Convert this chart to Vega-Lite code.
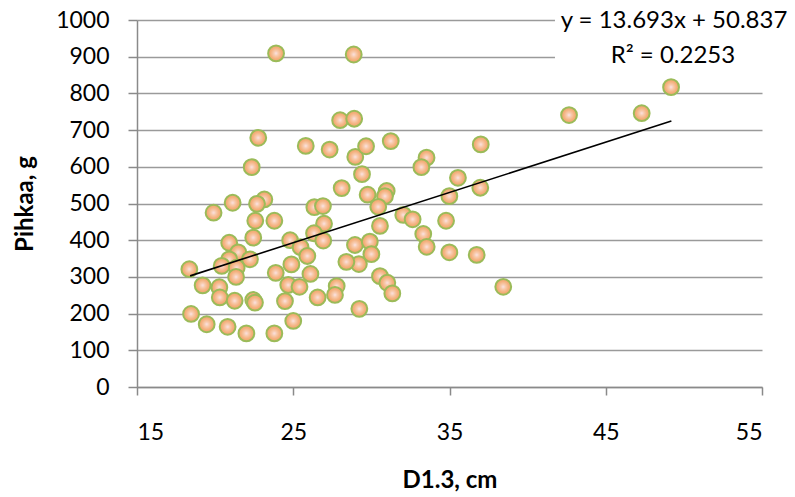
{
  "$schema": "https://vega.github.io/schema/vega-lite/v6.json",
  "width": 625,
  "height": 367,
  "autosize": {"type": "none"},
  "padding": {"left": 137, "top": 20, "right": 33, "bottom": 110},
  "background": "white",
  "config": {
    "font": "Lato",
    "view": {"stroke": null},
    "axis": {
      "domainColor": "#8a8a8a",
      "domainWidth": 1.5,
      "tickColor": "#8a8a8a",
      "tickWidth": 1.5,
      "gridColor": "#9a9a9a",
      "gridWidth": 1.5,
      "labelColor": "#000000",
      "labelFont": "Lato",
      "labelFontSize": 23,
      "titleColor": "#000000",
      "titleFont": "Lato",
      "titleFontSize": 24,
      "titleFontWeight": "bold"
    }
  },
  "datasets": {
    "points": [
      {"d": 23.9, "p": 909}, {"d": 28.87, "p": 906}, {"d": 28.0, "p": 727}, {"d": 28.9, "p": 731},
      {"d": 22.76, "p": 679}, {"d": 25.8, "p": 657}, {"d": 27.33, "p": 647}, {"d": 28.97, "p": 627},
      {"d": 29.66, "p": 656}, {"d": 22.34, "p": 599}, {"d": 29.4, "p": 580}, {"d": 28.1, "p": 542},
      {"d": 29.76, "p": 524}, {"d": 21.12, "p": 502}, {"d": 23.15, "p": 511}, {"d": 22.68, "p": 499},
      {"d": 19.9, "p": 475}, {"d": 26.35, "p": 490}, {"d": 26.9, "p": 493}, {"d": 22.57, "p": 453},
      {"d": 23.79, "p": 453}, {"d": 26.97, "p": 445}, {"d": 20.9, "p": 393}, {"d": 22.44, "p": 407},
      {"d": 21.48, "p": 367}, {"d": 20.9, "p": 348}, {"d": 22.23, "p": 348}, {"d": 20.42, "p": 330},
      {"d": 21.38, "p": 325}, {"d": 21.34, "p": 300}, {"d": 18.35, "p": 321}, {"d": 24.8, "p": 400},
      {"d": 25.47, "p": 381}, {"d": 25.9, "p": 357}, {"d": 26.33, "p": 419}, {"d": 26.92, "p": 399},
      {"d": 24.88, "p": 334}, {"d": 23.88, "p": 311}, {"d": 26.1, "p": 308}, {"d": 19.2, "p": 277},
      {"d": 20.27, "p": 272}, {"d": 20.3, "p": 244}, {"d": 21.25, "p": 235}, {"d": 24.68, "p": 278},
      {"d": 25.4, "p": 273}, {"d": 24.47, "p": 234}, {"d": 22.44, "p": 237}, {"d": 22.55, "p": 230},
      {"d": 26.56, "p": 244}, {"d": 27.78, "p": 275}, {"d": 27.67, "p": 251}, {"d": 29.23, "p": 213},
      {"d": 18.46, "p": 199}, {"d": 19.46, "p": 171}, {"d": 20.8, "p": 164}, {"d": 22.0, "p": 146},
      {"d": 23.79, "p": 146}, {"d": 25.0, "p": 180}, {"d": 28.95, "p": 387}, {"d": 29.2, "p": 335},
      {"d": 28.4, "p": 341}, {"d": 31.24, "p": 670}, {"d": 37.0, "p": 661}, {"d": 33.53, "p": 625},
      {"d": 33.2, "p": 599}, {"d": 35.54, "p": 570}, {"d": 36.97, "p": 543}, {"d": 30.98, "p": 534},
      {"d": 30.87, "p": 520}, {"d": 34.99, "p": 520}, {"d": 30.44, "p": 491}, {"d": 32.04, "p": 469},
      {"d": 32.64, "p": 457}, {"d": 34.78, "p": 453}, {"d": 30.55, "p": 439}, {"d": 33.32, "p": 417},
      {"d": 33.54, "p": 382}, {"d": 34.99, "p": 367}, {"d": 36.74, "p": 360}, {"d": 29.9, "p": 396},
      {"d": 30.0, "p": 362}, {"d": 30.55, "p": 302}, {"d": 31.02, "p": 284}, {"d": 31.34, "p": 255},
      {"d": 38.44, "p": 273}, {"d": 49.18, "p": 817}, {"d": 42.65, "p": 741}, {"d": 47.3, "p": 746}
    ],
    "trend": [
      {"d": 18.4, "p": 302.8},
      {"d": 49.2, "p": 724.5}
    ],
    "labelbox": [{"d": 41.75, "d2": 58, "p": 1060, "p2": 868}],
    "labels": [
      {"label": "y = 13.693x + 50.837", "d": 49.37, "p": 978},
      {"label": "R² = 0.2253", "d": 49.3, "p": 883}
    ]
  },
  "encoding": {
    "x": {
      "field": "d", "type": "quantitative",
      "scale": {"domain": [15, 55], "nice": false, "zero": false},
      "axis": {
        "values": [15, 25, 35, 45, 55],
        "grid": false,
        "tickSize": 8,
        "labelPadding": 26,
        "title": "D1.3, cm",
        "titleBaseline": "alphabetic",
        "titleY": 100
      }
    },
    "y": {
      "field": "p", "type": "quantitative",
      "scale": {"domain": [0, 1000], "nice": false},
      "axis": {
        "values": [0, 100, 200, 300, 400, 500, 600, 700, 800, 900, 1000],
        "format": "d",
        "grid": true,
        "tickSize": 9,
        "labelPadding": 19,
        "title": "Pihkaa, g",
        "titleAngle": -90,
        "titleAlign": "center",
        "titleBaseline": "alphabetic",
        "titleX": -105,
        "titleY": 183.5
      }
    }
  },
  "layer": [
    {
      "data": {"name": "points"},
      "mark": {
        "type": "point",
        "shape": "circle",
        "filled": true,
        "size": 250,
        "opacity": 1,
        "fill": {
          "gradient": "radial",
          "x1": 0.5, "y1": 0.5, "r1": 0,
          "x2": 0.5, "y2": 0.5, "r2": 0.5,
          "stops": [
            {"offset": 0, "color": "#fbe4e8"},
            {"offset": 0.25, "color": "#f8ceb4"},
            {"offset": 0.7, "color": "#f4b07c"},
            {"offset": 1, "color": "#f1a56a"}
          ]
        },
        "stroke": "#9bbb59",
        "strokeWidth": 2
      }
    },
    {
      "data": {"name": "trend"},
      "mark": {"type": "line", "color": "#000000", "strokeWidth": 1.6}
    },
    {
      "data": {"name": "labelbox"},
      "mark": {"type": "rect", "fill": "white"},
      "encoding": {
        "x2": {"field": "d2"},
        "y2": {"field": "p2"}
      }
    },
    {
      "data": {"name": "labels"},
      "mark": {"type": "text", "fontSize": 24, "align": "center", "baseline": "alphabetic", "color": "#000000"},
      "encoding": {
        "text": {"field": "label"}
      }
    }
  ]
}
